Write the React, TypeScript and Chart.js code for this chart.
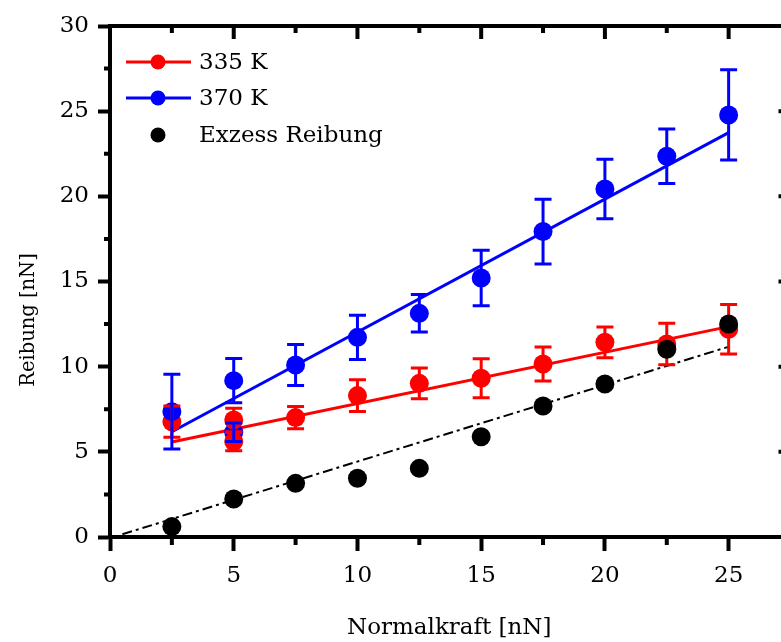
import React, { useEffect, useRef } from "react";
import { Chart, registerables } from "chart.js";

Chart.register(...registerables);

// ---- data ----
const normalForce = [2.5, 5, 7.5, 10, 12.5, 15, 17.5, 20, 22.5, 25];
const friction335 = [6.77, 6.87, 7.01, 8.3, 9.02, 9.32, 10.16, 11.43, 11.33, 12.2];
const friction335Err = [0.92, 0.69, 0.65, 0.93, 0.9, 1.15, 1.0, 0.9, 1.22, 1.45];
const friction370 = [7.36, 9.18, 10.1, 11.72, 13.13, 15.21, 17.93, 20.43, 22.35, 24.78];
const friction370Err = [2.2, 1.3, 1.2, 1.3, 1.1, 1.63, 1.9, 1.75, 1.6, 2.65];
const excessFriction = [0.61, 2.23, 3.15, 3.45, 4.03, 5.89, 7.69, 8.98, 11.02, 12.51];

// repeated measurement at 5 nN
const repeatForce = [5];
const repeat335 = [5.6];
const repeat335Err = [0.53];
const repeat370 = [6.15];
const repeat370Err = [0.55];

// fit lines
const fitForce = [2.5, 25];
const fit335 = [5.58, 12.35];
const fit370 = [6.18, 23.74];
const excessFitForce = [0.5, 25];
const excessFit = [0.16, 11.17];

// axes
const xMajorTicks = [0, 5, 10, 15, 20, 25];
const xMinorTicks = [2.5, 7.5, 12.5, 17.5, 22.5];
const yMajorTicks = [0, 5, 10, 15, 20, 25, 30];
const yMinorTicks = [2.5, 7.5, 12.5, 17.5, 22.5, 27.5];
const xTitle = "Normalkraft [nN]";
const yTitle = "Reibung [nN]";
const legendLabels = ["335 K", "370 K", "Exzess Reibung"];

const RED = "#ff0000";
const BLUE = "#0000ff";
const BLACK = "#000000";
const FONT = "DejaVu Serif";

const pts = (xs: number[], ys: number[]) => xs.map((x, i) => ({ x, y: ys[i] }));

const errorSets = [
  { xs: normalForce, ys: friction335, es: friction335Err, color: RED },
  { xs: repeatForce, ys: repeat335, es: repeat335Err, color: RED },
  { xs: normalForce, ys: friction370, es: friction370Err, color: BLUE },
  { xs: repeatForce, ys: repeat370, es: repeat370Err, color: BLUE },
];

const decorPlugin = {
  id: "decor",
  beforeDatasetDraw(chart: any, args: any) {
    const ds = chart.data.datasets[args.index];
    if (ds.label !== legendLabels[2]) return;
    const ctx = chart.ctx;
    const xs = chart.scales.x;
    const ys = chart.scales.y;
    ctx.save();
    ctx.lineWidth = 3;
    ctx.lineCap = "butt";
    for (const set of errorSets) {
      ctx.strokeStyle = set.color;
      set.xs.forEach((x, i) => {
        const px = xs.getPixelForValue(x);
        const top = ys.getPixelForValue(set.ys[i] + set.es[i]);
        const bot = ys.getPixelForValue(set.ys[i] - set.es[i]);
        ctx.beginPath();
        ctx.moveTo(px, top);
        ctx.lineTo(px, bot);
        ctx.moveTo(px - 8.5, top);
        ctx.lineTo(px + 8.5, top);
        ctx.moveTo(px - 8.5, bot);
        ctx.lineTo(px + 8.5, bot);
        ctx.stroke();
      });
    }
    ctx.restore();
  },
  afterDraw(chart: any) {
    const ctx = chart.ctx;
    const area = chart.chartArea;
    const xs = chart.scales.x;
    const ys = chart.scales.y;
    ctx.save();
    ctx.strokeStyle = BLACK;
    ctx.lineWidth = 4;
    ctx.lineCap = "butt";
    // top & right axis lines
    ctx.beginPath();
    ctx.moveTo(area.left - 2, area.top);
    ctx.lineTo(area.right + 2, area.top);
    ctx.moveTo(area.right, area.top);
    ctx.lineTo(area.right, area.bottom);
    ctx.stroke();
    ctx.beginPath();
    xMajorTicks.forEach((v) => {
      const p = xs.getPixelForValue(v);
      ctx.moveTo(p, area.top);
      ctx.lineTo(p, area.top + 13);
    });
    xMinorTicks.forEach((v) => {
      const p = xs.getPixelForValue(v);
      ctx.moveTo(p, area.top);
      ctx.lineTo(p, area.top + 7);
      ctx.moveTo(p, area.bottom);
      ctx.lineTo(p, area.bottom + 8);
    });
    yMajorTicks.forEach((v) => {
      const p = ys.getPixelForValue(v);
      ctx.moveTo(area.right, p);
      ctx.lineTo(area.right - 12, p);
    });
    yMinorTicks.forEach((v) => {
      const p = ys.getPixelForValue(v);
      ctx.moveTo(area.right, p);
      ctx.lineTo(area.right - 6, p);
      ctx.moveTo(area.left, p);
      ctx.lineTo(area.left - 6, p);
    });
    ctx.stroke();

    // titles
    ctx.fillStyle = BLACK;
    ctx.font = `23px "${FONT}"`;
    ctx.textAlign = "center";
    ctx.textBaseline = "alphabetic";
    ctx.fillText(xTitle, (area.left + area.right) / 2 - 1, 634);
    ctx.save();
    ctx.translate(34, 320);
    ctx.rotate(-Math.PI / 2);
    ctx.font = `19.5px "${FONT}"`;
    ctx.fillText(yTitle, 0, 0);
    ctx.restore();

    // legend
    const rows = [
      { label: legendLabels[0], color: RED, line: true, y: 62 },
      { label: legendLabels[1], color: BLUE, line: true, y: 98 },
      { label: legendLabels[2], color: BLACK, line: false, y: 135 },
    ];
    ctx.font = `23px "${FONT}"`;
    ctx.textAlign = "left";
    ctx.textBaseline = "middle";
    rows.forEach((r) => {
      if (r.line) {
        ctx.strokeStyle = r.color;
        ctx.lineWidth = 3;
        ctx.beginPath();
        ctx.moveTo(126, r.y);
        ctx.lineTo(191, r.y);
        ctx.stroke();
      }
      ctx.fillStyle = r.color;
      ctx.beginPath();
      ctx.arc(158, r.y, 7.5, 0, Math.PI * 2);
      ctx.fill();
      ctx.fillStyle = BLACK;
      ctx.fillText(r.label, 199, r.y + 1);
    });
    ctx.restore();
  },
};

export default function App() {
  const ref = useRef<HTMLCanvasElement | null>(null);
  useEffect(() => {
    if (!ref.current) return;
    const marker = (color: string) => ({
      showLine: false,
      pointRadius: 9.5,
      pointHoverRadius: 9.5,
      pointBackgroundColor: color,
      pointBorderColor: color,
      pointBorderWidth: 0,
      backgroundColor: color,
      borderColor: color,
    });
    const chart = new Chart(ref.current, {
      type: "scatter",
      data: {
        datasets: [
          {
            label: "fit335",
            type: "line",
            data: pts(fitForce, fit335),
            borderColor: RED,
            borderWidth: 3,
            pointRadius: 0,
            showLine: true,
            order: 8,
          } as any,
          {
            label: "fit370",
            type: "line",
            data: pts(fitForce, fit370),
            borderColor: BLUE,
            borderWidth: 3,
            pointRadius: 0,
            showLine: true,
            order: 7,
          } as any,
          {
            label: "excessFit",
            type: "line",
            data: pts(excessFitForce, excessFit),
            borderColor: BLACK,
            borderWidth: 2,
            borderDash: [10, 4, 3, 4],
            pointRadius: 0,
            showLine: true,
            order: 6,
          } as any,
          { label: "repeat370", data: pts(repeatForce, repeat370), ...marker(BLUE), order: 5 },
          { label: legendLabels[0], data: pts(normalForce, friction335), ...marker(RED), order: 4 },
          { label: "repeat335", data: pts(repeatForce, repeat335), ...marker(RED), order: 3 },
          { label: legendLabels[1], data: pts(normalForce, friction370), ...marker(BLUE), order: 2 },
          { label: legendLabels[2], data: pts(normalForce, excessFriction), ...marker(BLACK), order: 1 },
        ],
      },
      options: {
        animation: false,
        responsive: false,
        devicePixelRatio: 1,
        layout: { padding: { left: 0, right: 9, top: 26, bottom: 0 } },
        plugins: { legend: { display: false }, tooltip: { enabled: false } },
        events: [],
        scales: {
          x: {
            type: "linear",
            min: 0,
            max: 27.5,
            afterFit: (s: any) => {
              s.height = 105;
            },
            afterBuildTicks: (s: any) => {
              s.ticks = xMajorTicks.map((v) => ({ value: v }));
            },
            grid: {
              display: true,
              drawOnChartArea: false,
              drawTicks: true,
              tickLength: 14,
              tickWidth: 4,
              tickColor: BLACK,
            },
            border: { display: true, width: 4, color: BLACK },
            ticks: {
              color: BLACK,
              padding: 11,
              maxRotation: 0,
              font: { family: FONT, size: 23 },
            },
          },
          y: {
            type: "linear",
            min: 0,
            max: 30,
            afterFit: (s: any) => {
              s.width = 110;
            },
            afterBuildTicks: (s: any) => {
              s.ticks = yMajorTicks.map((v) => ({ value: v }));
            },
            grid: {
              display: true,
              drawOnChartArea: false,
              drawTicks: true,
              tickLength: 12,
              tickWidth: 4,
              tickColor: BLACK,
            },
            border: { display: true, width: 4, color: BLACK },
            ticks: {
              color: BLACK,
              padding: 9,
              font: { family: FONT, size: 23 },
            },
          },
        },
      },
      plugins: [decorPlugin],
    } as any);
    return () => chart.destroy();
  }, []);
  return (
    <div
      style={{
        position: "absolute",
        left: 0,
        top: 0,
        width: 781,
        height: 642,
        overflow: "hidden",
        background: "#fff",
      }}
    >
      <canvas ref={ref} width={800} height={642} style={{ display: "block" }} />
    </div>
  );
}
